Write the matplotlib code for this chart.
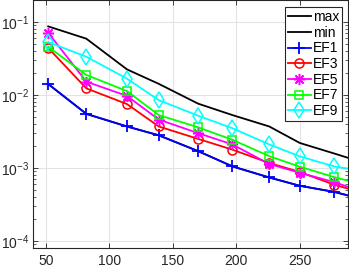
import matplotlib

matplotlib.use("Agg")
import matplotlib.pyplot as plt  # noqa: E402
from matplotlib.ticker import LogLocator, NullFormatter  # noqa: E402

# --- data -------------------------------------------------------------
n_dofs = [52, 82, 114, 139, 170, 197, 226, 250, 277, 303]

err_max = [0.087, 0.059, 0.0224, 0.0142, 0.0076, 0.0053, 0.0037, 0.0022, 0.00158, 0.00114]
err_ef1 = [0.0141, 0.0055, 0.0037, 0.0028, 0.0017, 0.00105, 0.00074, 0.00057, 0.00047, 0.00036]
err_min = list(err_ef1)  # min coincides with EF1 (hidden underneath it)
err_ef3 = [0.044, 0.0123, 0.0075, 0.0037, 0.0025, 0.00178, 0.00117, 0.00088, 0.00059, 0.00044]
err_ef5 = [0.071, 0.0152, 0.0097, 0.0046, 0.0030, 0.0021, 0.00113, 0.00086, 0.00064, 0.00045]
err_ef7 = [0.0457, 0.0188, 0.0113, 0.0053, 0.0036, 0.00243, 0.00145, 0.00104, 0.00075, 0.00057]
err_ef9 = [0.053, 0.0334, 0.0167, 0.0085, 0.0052, 0.0035, 0.0021, 0.00144, 0.00105, 0.00089]

plt.rcParams["font.family"] = ["Liberation Sans", "DejaVu Sans"]
plt.rcParams["mathtext.fontset"] = "custom"
plt.rcParams["mathtext.rm"] = "Liberation Sans"
plt.rcParams["mathtext.it"] = "Liberation Sans"

DARK = "#262626"
W, H = 349, 269

fig = plt.figure(figsize=(W / 100, H / 100), dpi=100)
ax = fig.add_axes([33 / W, 21 / H, 315 / W, 248 / H])

lw = 1.3
ax.plot(n_dofs, err_max, color="black", lw=lw, label="max")
ax.plot(n_dofs, err_min, color="black", lw=lw, label="min")
ax.plot(n_dofs, err_ef1, color="#0000ff", lw=lw, marker="+", ms=8, mew=1.3, label="EF1")
ax.plot(n_dofs, err_ef3, color="#ff0000", lw=lw, marker="o", ms=6.5, mew=1.1,
        mfc="none", label="EF3")
ax.plot(n_dofs, err_ef5, color="#ff00ff", lw=lw, marker=(8, 2, 0), ms=8, mew=1.1,
        label="EF5")
ax.plot(n_dofs, err_ef7, color="#00ff00", lw=lw, marker="s", ms=5.5, mew=1.1,
        mfc="none", label="EF7")
ax.plot(n_dofs, err_ef9, color="#00ffff", lw=lw, marker="d", ms=8.5, mew=1.1,
        mfc="none", label="EF9")

ax.set_yscale("log")
ax.set_xlim(40, 288)
ax.set_ylim(8.0e-5, 0.2)
ax.set_xticks([50, 100, 150, 200, 250])
ax.set_yticks([1e-4, 1e-3, 1e-2, 1e-1])
ax.yaxis.set_minor_locator(LogLocator(base=10, subs=range(2, 10)))
ax.yaxis.set_minor_formatter(NullFormatter())

ax.grid(True, which="major", color="#e3e3e3", lw=0.8)
ax.set_axisbelow(True)
for s in ax.spines.values():
    s.set_color(DARK)
    s.set_linewidth(0.8)
ax.tick_params(which="both", direction="in", top=True, right=True,
               colors=DARK, labelsize=10, labelcolor=DARK)
ax.tick_params(which="major", length=3.5, width=0.6)
ax.tick_params(which="minor", length=2, width=0.5)
ax.tick_params(axis="x", pad=4)
ax.tick_params(axis="y", pad=3)

leg = ax.legend(loc="upper right", bbox_to_anchor=(341.7 / W, 1 - 7.3 / H),
                bbox_transform=fig.transFigure, fontsize=10, frameon=True,
                fancybox=False, framealpha=1, edgecolor=DARK,
                handlelength=1.7, handletextpad=0.1, labelspacing=0.12,
                borderpad=0.2, borderaxespad=0)
leg.get_frame().set_linewidth(0.8)

fig.savefig("out.png", dpi=100)
